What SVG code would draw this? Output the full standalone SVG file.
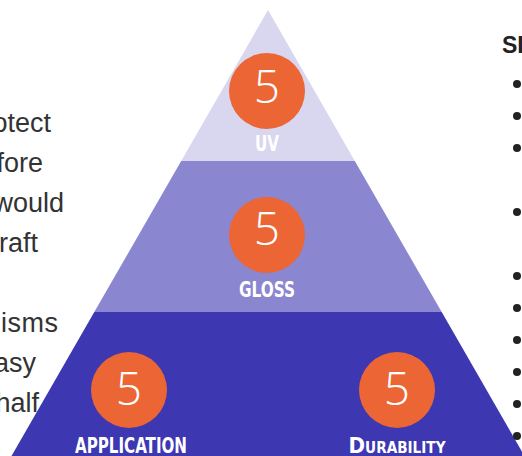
<svg xmlns="http://www.w3.org/2000/svg" width="522" height="456" viewBox="0 0 522 456">
  <style>
    .body { font-family: "Liberation Sans", Arial, sans-serif; font-size: 27px; fill: #333333; }
    .head { font-family: "Liberation Sans", Arial, sans-serif; font-size: 23px; font-weight: bold; fill: #222222; }
    .badge { fill: #eb6535; }
    .num { font-family: "Open Sans", "Liberation Sans", sans-serif; font-weight: 300; font-size: 46px; fill: #ffffff; text-anchor: middle; }
    .lbl { font-family: "DejaVu Sans Condensed", "DejaVu Sans", sans-serif; font-weight: bold; font-size: 22px; fill: #ffffff; text-anchor: middle; }
    .dot { fill: #222222; }
  </style>
  <rect width="522" height="456" fill="#ffffff"/>

  <g id="left-text" class="body">
    <text x="51" y="132" text-anchor="end">otect</text>
    <text x="43" y="172" text-anchor="end">fore</text>
    <text x="64" y="212" text-anchor="end">would</text>
    <text x="38" y="252" text-anchor="end">raft</text>
    <text x="1" y="332" textLength="57" lengthAdjust="spacing">isms</text>
    <text x="36" y="372" text-anchor="end">asy</text>
    <text x="39" y="412" text-anchor="end">half</text>
  </g>

  <g id="tier-uv">
    <polygon points="268,10 354.8,161 181.2,161" fill="#d9d6ef"/>
    <circle class="badge" cx="267" cy="91" r="38"/>
    <text class="num" x="267" y="103">5</text>
    <text class="lbl" x="267" y="151" textLength="24" lengthAdjust="spacingAndGlyphs">UV</text>
  </g>

  <g id="tier-gloss">
    <polygon points="181.2,161 354.8,161 441.7,312 94.3,312" fill="#8b86d0"/>
    <circle class="badge" cx="267" cy="235" r="38"/>
    <text class="num" x="267" y="245">5</text>
    <text class="lbl" x="267" y="297" textLength="56" lengthAdjust="spacingAndGlyphs">GLOSS</text>
  </g>

  <g id="tier-base">
    <polygon points="94.3,312 441.7,312 524.5,456 11.5,456" fill="#3d37b1"/>
  </g>

  <g id="node-application">
    <circle class="badge" cx="129" cy="390" r="38"/>
    <text class="num" x="129" y="405">5</text>
    <text class="lbl" x="131" y="453" textLength="112" lengthAdjust="spacingAndGlyphs">APPLICATION</text>
  </g>

  <g id="node-durability">
    <circle class="badge" cx="397" cy="390" r="38"/>
    <text class="num" x="397" y="405">5</text>
    <text class="lbl" x="397" y="453" textLength="97" lengthAdjust="spacingAndGlyphs" style="font-variant: small-caps">Durability</text>
  </g>

  <g id="connectors"/>

  <g id="right-text">
    <text class="head" x="502" y="53">SI</text>
    <g class="dot">
      <circle cx="517" cy="84" r="4"/>
      <circle cx="517" cy="116" r="4"/>
      <circle cx="517" cy="148" r="4"/>
      <circle cx="517" cy="212" r="4"/>
      <circle cx="517" cy="276" r="4"/>
      <circle cx="517" cy="308" r="4"/>
      <circle cx="517" cy="340" r="4"/>
      <circle cx="517" cy="372" r="4"/>
      <circle cx="517" cy="404" r="4"/>
      <circle cx="517" cy="436" r="4"/>
    </g>
  </g>
</svg>
